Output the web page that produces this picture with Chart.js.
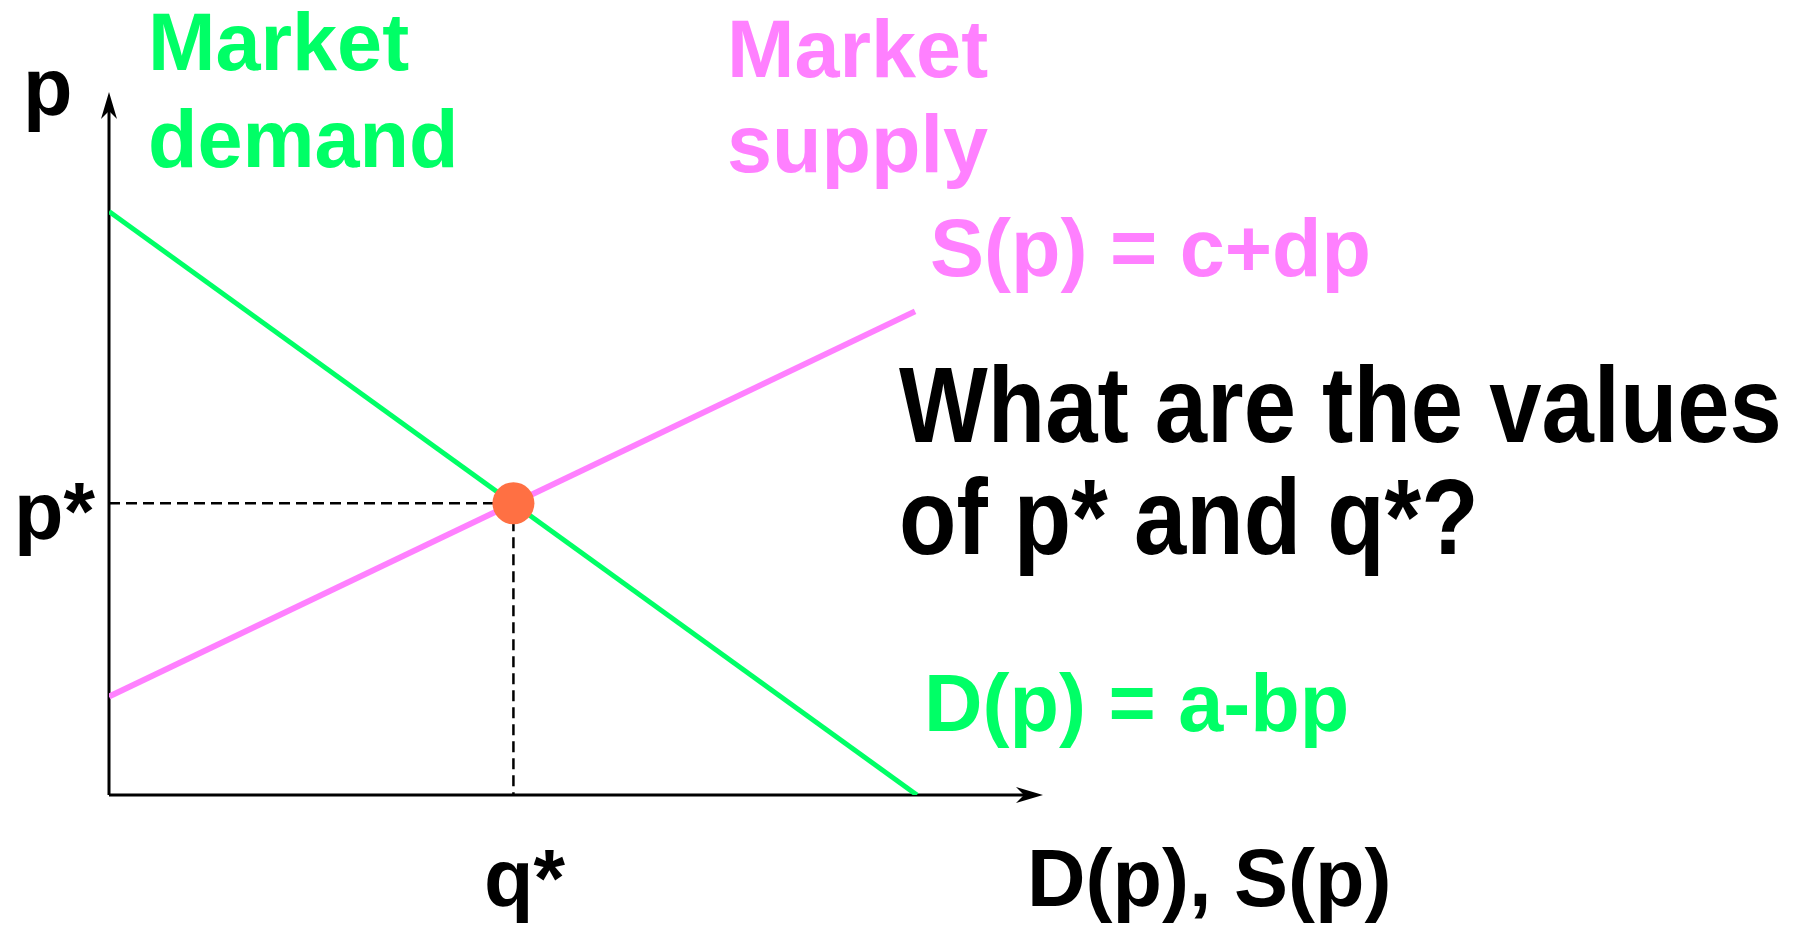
<!DOCTYPE html>
<html>
<head>
<meta charset="utf-8">
<script src="https://cdn.jsdelivr.net/npm/chart.js@4/dist/chart.umd.min.js"></script>
<style>
  html, body { margin: 0; padding: 0; background: #fff; }
  #wrap { width: 1800px; height: 926px; position: relative; }
</style>
</head>
<body>
<div id="wrap"><canvas id="chart"></canvas></div>
<script>
// quantity (x) and price (y) end points, axes run 0..10
const demandQ = [0, 8.65];
const demandP = [8.3, 0];
const supplyQ = [0, 8.63];
const supplyP = [1.4, 6.88];
const eqQ = [4.33];
const eqP = [4.15];

const GREEN = '#00ff66';
const PINK = '#ff80ff';
const ORANGE = '#ff7043';
const FONT = '"Liberation Sans", Arial, sans-serif';

const pts = (xs, ys) => xs.map((x, i) => ({ x, y: ys[i] }));

// axes with arrow heads plus the slide text
const slideDecor = {
  id: 'slideDecor',
  beforeDatasetsDraw(chart) {
    const { ctx, scales: { x, y } } = chart;
    const x0 = x.getPixelForValue(0), y0 = y.getPixelForValue(0);
    const xEnd = x.getPixelForValue(x.max), yEnd = y.getPixelForValue(y.max);
    ctx.save();
    ctx.strokeStyle = '#000';
    ctx.fillStyle = '#000';
    ctx.lineWidth = 3;
    ctx.beginPath();
    ctx.moveTo(x0, y0);
    ctx.lineTo(x0, yEnd + 14);
    ctx.moveTo(x0, y0);
    ctx.lineTo(xEnd - 14, y0);
    ctx.stroke();
    // y arrow
    ctx.beginPath();
    ctx.moveTo(x0, yEnd);
    ctx.lineTo(x0 - 8, yEnd + 27);
    ctx.lineTo(x0, yEnd + 19);
    ctx.lineTo(x0 + 8, yEnd + 27);
    ctx.closePath();
    ctx.fill();
    // x arrow
    ctx.beginPath();
    ctx.moveTo(xEnd, y0);
    ctx.lineTo(xEnd - 27, y0 - 8);
    ctx.lineTo(xEnd - 19, y0);
    ctx.lineTo(xEnd - 27, y0 + 8);
    ctx.closePath();
    ctx.fill();
    ctx.restore();
  },
  afterDraw(chart) {
    const { ctx } = chart;
    ctx.save();
    ctx.textBaseline = 'alphabetic';
    ctx.textAlign = 'left';
    const put = (txt, px, py, color, size, sy = 1) => {
      ctx.save();
      ctx.font = 'bold ' + size + 'px ' + FONT;
      ctx.fillStyle = color;
      ctx.translate(px, py);
      ctx.scale(1, sy);
      ctx.fillText(txt, 0, 0);
      ctx.restore();
    };
    put('p', 23, 115, '#000', 81);
    put('Market', 148, 70, GREEN, 81);
    put('demand', 148, 167, GREEN, 81);
    put('Market', 727, 77, PINK, 81);
    put('supply', 727, 172, PINK, 81);
    put('S(p) = c+dp', 930, 276, PINK, 81);
    put('What are the values', 899, 442, '#000', 94, 1.14);
    put('of p* and q*?', 899, 554, '#000', 94, 1.14);
    put('D(p) = a-bp', 924, 731, GREEN, 81);
    put('p*', 14, 539, '#000', 81);
    put('q*', 484, 906, '#000', 81);
    put('D(p), S(p)', 1027, 906, '#000', 81);
    ctx.restore();
  }
};

new Chart(document.getElementById('chart'), {
  type: 'scatter',
  data: {
    datasets: [
      {
        data: pts(eqQ, eqP),
        pointRadius: 21,
        pointHoverRadius: 21,
        backgroundColor: ORANGE,
        borderWidth: 0,
        order: 0
      },
      {
        data: pts(demandQ, demandP),
        showLine: true,
        borderColor: GREEN,
        borderWidth: 5,
        pointRadius: 0,
        order: 1
      },
      {
        data: pts(supplyQ, supplyP),
        showLine: true,
        borderColor: PINK,
        borderWidth: 6,
        pointRadius: 0,
        order: 1
      },
      {
        data: [{ x: 0, y: eqP[0] }, { x: eqQ[0], y: eqP[0] }],
        showLine: true,
        borderColor: '#000',
        borderWidth: 2.5,
        borderDash: [11, 6],
        pointRadius: 0,
        order: 2
      },
      {
        data: [{ x: eqQ[0], y: eqP[0] }, { x: eqQ[0], y: 0 }],
        showLine: true,
        borderColor: '#000',
        borderWidth: 2.5,
        borderDash: [11, 6],
        pointRadius: 0,
        order: 2
      }
    ]
  },
  options: {
    responsive: true,
    maintainAspectRatio: false,
    animation: false,
    layout: { padding: { left: 109, top: 92, right: 757, bottom: 131 } },
    plugins: { legend: { display: false }, tooltip: { enabled: false } },
    scales: {
      x: { type: 'linear', min: 0, max: 10, display: false },
      y: { type: 'linear', min: 0, max: 10, display: false }
    }
  },
  plugins: [slideDecor]
});
</script>
</body>
</html>
